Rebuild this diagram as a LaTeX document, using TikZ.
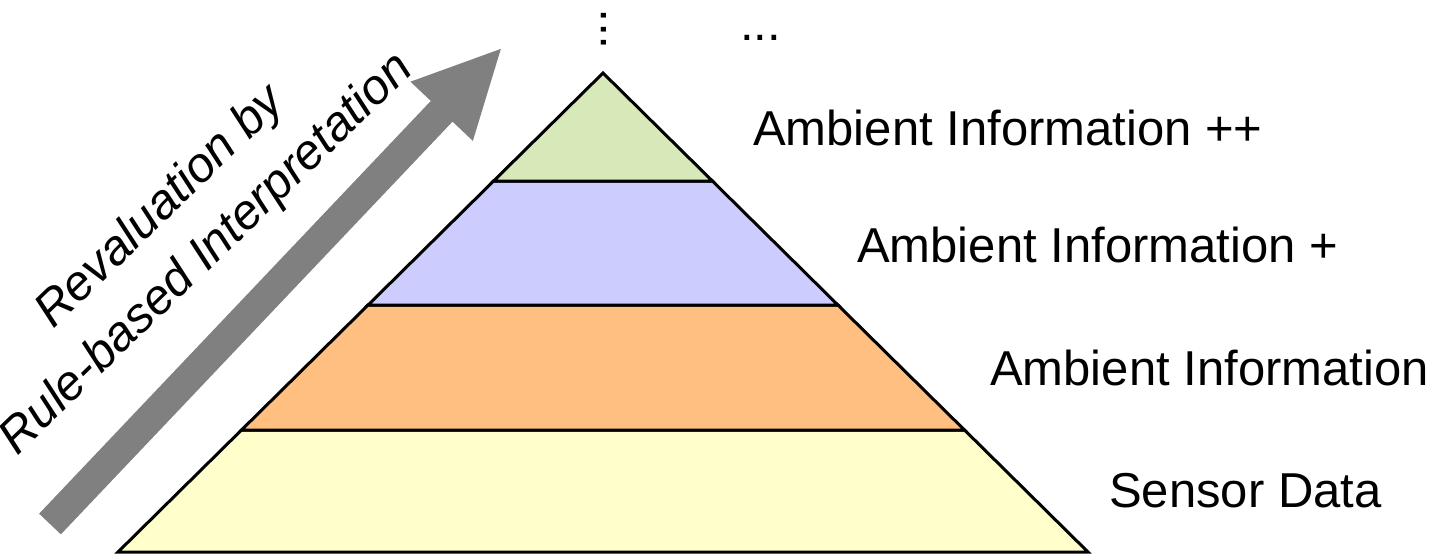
\documentclass[tikz,border=0pt]{standalone}
\usepackage{fontspec}
\setmainfont{Liberation Sans}
\definecolor{cgreen}{HTML}{D7E9B9}
\definecolor{cblue}{HTML}{CCCCFF}
\definecolor{corange}{HTML}{FFBF80}
\definecolor{cyellow}{HTML}{FFFFCC}
\definecolor{cgray}{HTML}{808080}
\begin{document}
\begin{tikzpicture}[x=1pt,y=-1pt,
  layer/.style={draw=black,line width=3pt,line join=miter},
  lbl/.style={anchor=base west,inner sep=0pt,font=\fontsize{49}{58}\selectfont},
  slant/.style={anchor=base,inner sep=0pt,rotate=44,font=\fontsize{49}{58}\selectfont\itshape},
  dots/.style={anchor=center,inner sep=0pt,font=\fontsize{49}{58}\selectfont}]
\useasboundingbox (0,0) rectangle (1443,555);
% pyramid corner points
\coordinate (apex) at (603,73);
\coordinate (L1) at (493.6,181); \coordinate (R1) at (712.4,181);
\coordinate (L2) at (368.1,305); \coordinate (R2) at (837.9,305);
\coordinate (L3) at (241.5,430); \coordinate (R3) at (964.5,430);
\coordinate (L4) at (118,552);   \coordinate (R4) at (1088,552);
% layers
\filldraw[layer,fill=cyellow] (L3) -- (R3) -- (R4) -- (L4) -- cycle;
\filldraw[layer,fill=corange] (L2) -- (R2) -- (R3) -- (L3) -- cycle;
\filldraw[layer,fill=cblue] (L1) -- (R1) -- (R2) -- (L2) -- cycle;
\filldraw[layer,fill=cgreen] (apex) -- (R1) -- (L1) -- cycle;
% labels
\node[lbl] (l4) at (753,145) {Ambient Information ++};
\node[lbl] (l3) at (857,262) {Ambient Information +};
\node[lbl] (l2) at (990,385) {Ambient Information};
\node[lbl] (l1) at (1109,507) {Sensor Data};
% dots
\node[dots,rotate=90] (vd) at (604,29.5) {...};
\node[dots] (hd) at (760.5,38) {...};
% big arrow
\coordinate (tail) at (50,524);
\coordinate (tip) at (501,49);
\fill[cgray,shift={(tail)},rotate=46.5] (0,-15) -- (569,-15) -- (569,-43) -- (655,0) -- (569,43) -- (569,15) -- (0,15) -- cycle;
\node[slant] (t1) at (170,217) {Revaluation by};
\node[slant] (t2) at (216,264) {Rule-based Interpretation};
\end{tikzpicture}
\end{document}
